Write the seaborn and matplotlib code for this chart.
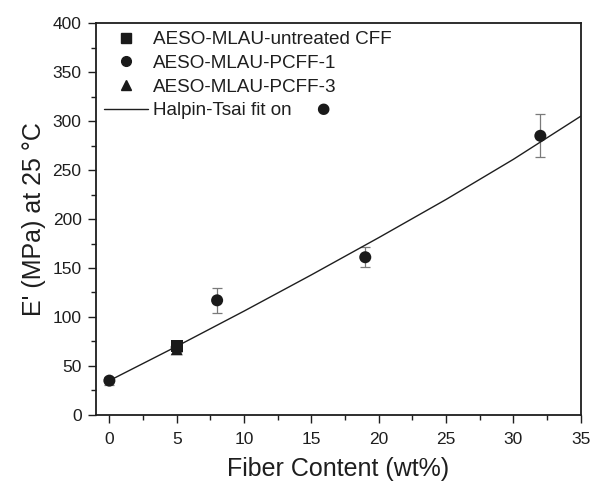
import numpy as np
import pandas as pd
import matplotlib
matplotlib.use("Agg")
import matplotlib.pyplot as plt
from matplotlib.lines import Line2D
from matplotlib.ticker import MultipleLocator
import seaborn as sns

sns.set_theme(style="ticks")
plt.rcParams["font.family"] = ["Liberation Sans", "DejaVu Sans"]

# Storage modulus at 25 °C versus fiber content
untreated_x = [5]
untreated_y = [70]
untreated_err = [3]

pcff1_x = [0, 5, 8, 19, 32]
pcff1_y = [35, 69, 117, 161, 285]
pcff1_err = [4, 3, 13, 10, 22]

pcff3_x = [5]
pcff3_y = [67]
pcff3_err = [3]

# Halpin-Tsai prediction fitted on the PCFF-1 series
fit_x = [0, 5, 10, 15, 20, 25, 30, 35]
fit_y = [35, 70, 106, 143, 181, 220, 261, 305]

series_names = ["AESO-MLAU-untreated CFF", "AESO-MLAU-PCFF-1", "AESO-MLAU-PCFF-3"]
markers = {series_names[0]: "s", series_names[1]: "o", series_names[2]: "^"}

df = pd.concat([
    pd.DataFrame({"fiber": untreated_x, "E": untreated_y, "err": untreated_err, "series": series_names[0]}),
    pd.DataFrame({"fiber": pcff1_x, "E": pcff1_y, "err": pcff1_err, "series": series_names[1]}),
    pd.DataFrame({"fiber": pcff3_x, "E": pcff3_y, "err": pcff3_err, "series": series_names[2]}),
], ignore_index=True)
fit_df = pd.DataFrame({"fiber": fit_x, "E": fit_y})

ink = "#1e1e1e"

fig = plt.figure(figsize=(5.92, 4.83), dpi=100)
ax = fig.add_axes([0.162, 0.141, 0.819, 0.811])

# error bars (grey, capped) behind the markers
ax.errorbar(df["fiber"], df["E"], yerr=df["err"], fmt="none",
            ecolor="#7a7a7a", elinewidth=0.9, capsize=3.5, capthick=0.9, zorder=1)

sns.lineplot(data=fit_df, x="fiber", y="E", color=ink, linewidth=1.0,
             ax=ax, legend=False, zorder=2)
sns.scatterplot(data=df, x="fiber", y="E", style="series", markers=markers,
                color="#1a1a1a", s=75, edgecolor="#1a1a1a", linewidth=0,
                ax=ax, legend=False, zorder=3)

ax.set_xlim(-1, 35)
ax.set_ylim(0, 400)
ax.xaxis.set_major_locator(MultipleLocator(5))
ax.xaxis.set_minor_locator(MultipleLocator(2.5))
ax.yaxis.set_major_locator(MultipleLocator(50))
ax.yaxis.set_minor_locator(MultipleLocator(25))
ax.tick_params(which="major", direction="out", length=5.8, width=1, labelsize=12.5,
               color=ink, labelcolor=ink, pad=4.5)
ax.tick_params(axis="x", which="major", pad=6.5)
ax.tick_params(which="minor", direction="out", length=3.6, width=1, color=ink)

for sp in ax.spines.values():
    sp.set_visible(True)
    sp.set_linewidth(1.3)
    sp.set_color(ink)

ax.set_xlabel("Fiber Content (wt%)", fontsize=18, color=ink, labelpad=7)
ax.set_ylabel("E' (MPa) at 25 \u00b0C", fontsize=18, color=ink, labelpad=5)

handles = [
    Line2D([], [], linestyle="none", marker="s", color="#1a1a1a", markersize=6.5),
    Line2D([], [], linestyle="none", marker="o", color="#1a1a1a", markersize=7),
    Line2D([], [], linestyle="none", marker="^", color="#1a1a1a", markersize=7),
    Line2D([], [], color=ink, linewidth=1.0),
]
labels = series_names + ["Halpin-Tsai fit on"]
leg = ax.legend(handles, labels, loc="upper left", bbox_to_anchor=(0.0, 1.0),
                frameon=False, fontsize=13.6, handlelength=2.33, handletextpad=0.27,
                labelspacing=0.34, borderaxespad=0.0, borderpad=0.42)
for t in leg.get_texts():
    t.set_color(ink)

# the fit-line entry names the series it was fitted on with its circle symbol
ax.annotate("\u25cf", xy=(1.0, 0.5), xycoords=leg.get_texts()[-1],
            xytext=(22.5, 1.5), textcoords="offset points", ha="center", va="center",
            fontsize=11, family="DejaVu Sans", color="#1a1a1a", zorder=10)

fig.canvas.draw()
fig.savefig("out.png", dpi=100)
